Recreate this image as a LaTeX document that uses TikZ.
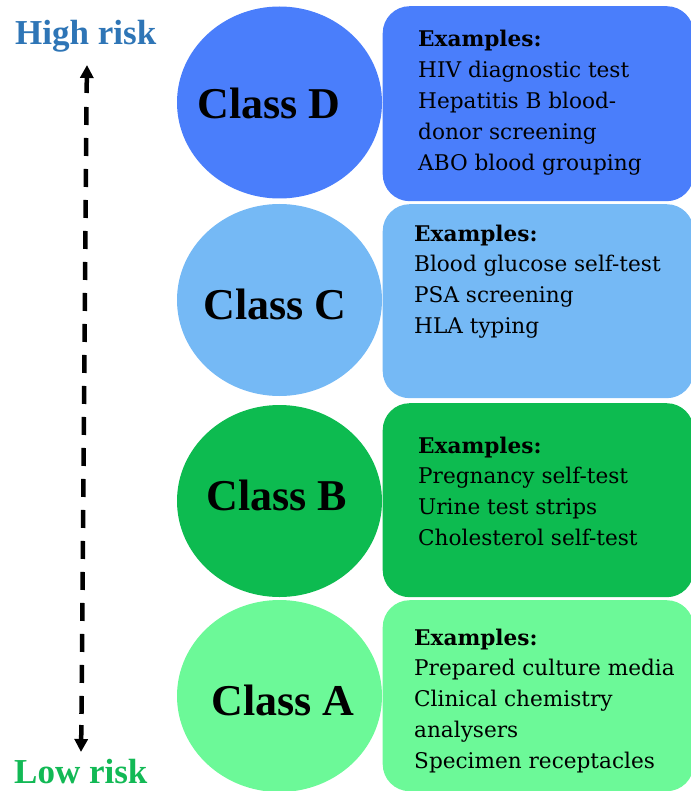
\documentclass[tikz,border=0pt]{standalone}
\usepackage{fontspec}
\setmainfont{DejaVu Serif}
\newfontfamily\headfont{Liberation Serif}
\usetikzlibrary{arrows.meta,shapes.geometric,calc}
\definecolor{cD}{HTML}{4A7EFB}
\definecolor{cC}{HTML}{75B9F5}
\definecolor{cB}{HTML}{0DBB50}
\definecolor{cA}{HTML}{6CF998}
\definecolor{highblue}{HTML}{2E75B6}
\definecolor{lowgreen}{HTML}{12B955}
\begin{document}
\begin{tikzpicture}[x=1pt,y=-1pt,
  classcirc/.style={ellipse,inner sep=0pt,minimum width=205pt,minimum height=192pt},
  classlbl/.style={font=\headfont\bfseries\fontsize{44}{48}\selectfont,inner sep=0pt,anchor=base},
  exbox/.style={rectangle,rounded corners=27pt,inner sep=0pt,minimum width=311pt,anchor=north west},
  extext/.style={font=\fontsize{21.6}{30.8}\selectfont,align=left,inner sep=0pt,anchor=base west},
  risklbl/.style={font=\headfont\bfseries\fontsize{35}{40}\selectfont,inner sep=0pt,anchor=base west},
  riskline/.style={line width=4.5pt,dash pattern=on 18pt off 13pt}
]
\useasboundingbox (0,0) rectangle (690,791);

% circles
\node[classcirc,fill=cD] (cirD) at (279.5,102.5) {};
\node[classcirc,fill=cC] (cirC) at (279.5,300) {};
\node[classcirc,fill=cB] (cirB) at (279.5,501) {};
\node[classcirc,fill=cA] (cirA) at (279.5,696) {};

\node[classlbl] (lblD) at (269,119) {Class D};
\node[classlbl] (lblC) at (275,319) {Class C};
\node[classlbl] (lblB) at (277,510) {Class B};
\node[classlbl] (lblA) at (283,715) {Class A};

% boxes
\node[exbox,fill=cD,minimum height=195pt] (boxD) at (382.5,6) {};
\node[exbox,fill=cC,minimum height=194pt] (boxC) at (382.5,204) {};
\node[exbox,fill=cB,minimum height=194pt] (boxB) at (382.5,403) {};
\node[exbox,fill=cA,minimum height=191pt] (boxA) at (382.5,600) {};

% anchor is the baseline of the last line
\node[extext] (txtD) at (418,170.2) {\textbf{Examples:}\\HIV diagnostic test\\Hepatitis B blood-\\donor screening\\ABO blood grouping};
\node[extext] (txtC) at (414,333.4) {\textbf{Examples:}\\Blood glucose self-test\\PSA screening\\HLA typing};
\node[extext] (txtB) at (418,545.4) {\textbf{Examples:}\\Pregnancy self-test\\Urine test strips\\Cholesterol self-test};
\node[extext] (txtA) at (414,768.2) {\textbf{Examples:}\\Prepared culture media\\Clinical chemistry\\analysers\\Specimen receptacles};

% risk labels
\node[risklbl,text=highblue] (high) at (15,45) {High risk};
\node[risklbl,text=lowgreen] (low) at (14,783) {Low risk};

% arrow
\coordinate (atop) at (87,65);
\coordinate (abot) at (81,752);
\coordinate (stop) at (86.6,93);
\coordinate (sbot) at (81.4,725);
\draw[line width=4.5pt,-{Triangle[width=13pt,length=13pt]}] (stop) -- (atop);
\draw[line width=4.5pt,-{Triangle[width=13pt,length=13pt]}] (sbot) -- (abot);
\draw[riskline] ($(stop)!14pt!(sbot)$) -- (sbot);
\end{tikzpicture}
\end{document}
